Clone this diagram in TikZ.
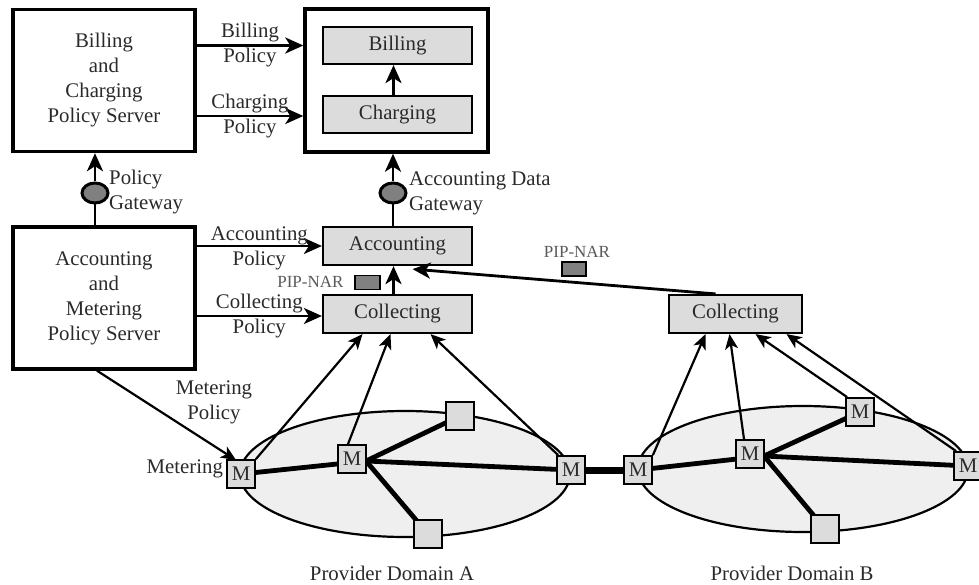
\documentclass[tikz,border=0pt]{standalone}
\usepackage{fontspec}
\setmainfont{Liberation Serif}
\usetikzlibrary{arrows.meta,shapes.geometric}

\definecolor{boxfill}{HTML}{DCDCDC}
\definecolor{domainfill}{HTML}{EFEFEF}
\definecolor{darkfill}{HTML}{808080}
\definecolor{txt}{HTML}{2A2A2A}

\tikzset{
  txtstyle/.style={font=\fontsize{20.8}{25}\selectfont, text=txt},
  server/.style={draw, line width=3.4pt, minimum width=182pt, minimum height=142pt, align=center, txtstyle},
  container/.style={draw, line width=3.4pt, minimum width=183pt, minimum height=143pt},
  procbox/.style={draw, line width=2.2pt, fill=boxfill, minimum width=149pt, minimum height=37pt, txtstyle},
  gateway/.style={draw, ellipse, line width=3pt, fill=darkfill, minimum width=26pt, minimum height=20pt, inner sep=0pt},
  pipnar/.style={draw, line width=1.2pt, fill=darkfill, minimum width=25pt, minimum height=14pt, inner sep=0pt},
  piplabel/.style={font=\fontsize{17}{20}\selectfont, text=black!65},
  provdomain/.style={draw, ellipse, line width=2.2pt, fill=domainfill, inner sep=0pt},
  meter/.style={draw, line width=1.8pt, fill=boxfill, minimum size=28pt, inner sep=0pt, txtstyle},
  lbl/.style={align=center, txtstyle, inner sep=0pt},
  flow/.style={line width=2.8pt, -{Stealth[length=18pt,width=16pt,inset=5pt]}},
  thinflow/.style={line width=2.2pt, -{Stealth[length=15pt,width=13pt,inset=4pt]}},
  link/.style={line width=4.8pt},
  trunk/.style={line width=7pt}
}

\begin{document}
\begin{tikzpicture}[x=1pt, y=-1pt]
\useasboundingbox (0,0) rectangle (979,585);

% --- policy servers ---
\node[server] (bcs) at (104,80.5) {Billing\\and\\Charging\\Policy Server};
\node[server] (ams) at (104,298) {Accounting\\and\\Metering\\Policy Server};

% --- billing / charging container ---
\node[container] (bcbox) at (396.5,80.5) {};
\node[procbox] (billing) at (397.5,45.5) {Billing};
\node[procbox] (charging) at (397.5,114.5) {Charging};
\draw[flow] ([xshift=-4pt]charging.north) -- ([xshift=-4pt]billing.south);

% --- accounting / collecting ---
\node[procbox, minimum height=38pt] (accounting) at (397.5,246) {Accounting};
\node[procbox, minimum height=38pt] (collA) at (397.5,314) {Collecting};
\node[procbox, minimum height=38pt, minimum width=133pt] (collB) at (735.5,314) {Collecting};
\draw[flow] ([xshift=-4pt]collA.north) -- ([xshift=-4pt]accounting.south);

% --- policy flows ---
\draw[flow] (bcs.east |- billing) -- (bcbox.west |- billing)
  node[lbl, midway] {Billing\\Policy};
\draw[flow] ([yshift=-1.5pt]bcs.east |- charging) -- ([yshift=-1.5pt]bcbox.west |- charging)
  node[lbl, midway] {Charging\\Policy};
\draw[flow] (ams.east |- accounting) -- (accounting.west)
  node[lbl, midway, yshift=-2pt] {Accounting\\Policy};
\draw[flow] ([yshift=-2pt]ams.east |- collA) -- ([yshift=-2pt]collA.west)
  node[lbl, midway] {Collecting\\Policy};

% --- gateways ---
\node[gateway] (pgw) at (95,193) {};
\draw[line width=2.8pt] ([xshift=-9pt]ams.north) -- (pgw);
\draw[flow] (pgw) -- ([xshift=-9pt]bcs.south);
\node[lbl, anchor=west, align=left] (pgwl) at (109,192) {Policy\\Gateway};

\node[gateway] (agw) at (393,193) {};
\draw[line width=2.8pt] ([xshift=-4.5pt]accounting.north) -- (agw);
\draw[flow] (agw) -- ([xshift=-3.5pt]bcbox.south);
\node[lbl, anchor=west, align=left] (agwl) at (409,193) {Accounting Data\\Gateway};

% --- PIP-NAR markers ---
\node[pipnar] (pip1) at (367.5,282.5) {};
\node[piplabel, anchor=east] (pip1l) at (347,282) {PIP-NAR};
\node[pipnar, minimum width=24pt] (pip2) at (574,269) {};
\node[piplabel] (pip2l) at (577,252) {PIP-NAR};

\draw[flow] ([xshift=-20pt]collB.north) -- ([xshift=15pt,yshift=-3pt]accounting.south);

% --- provider domains ---
\node[provdomain, minimum width=330pt, minimum height=126pt] (domA) at (405,474) {};
\node[provdomain, minimum width=330pt, minimum height=126pt] (domB) at (803,469) {};

\coordinate (mA1c) at (241,474);
\coordinate (mA2c) at (352,459);
\coordinate (sqA1c) at (460,416);
\coordinate (sqA2c) at (428,534);
\coordinate (mA3c) at (571,470);
\coordinate (mB1c) at (638,470);
\coordinate (mB2c) at (750,454);
\coordinate (mB3c) at (860,412);
\coordinate (mB4c) at (968,466);
\coordinate (sqBc) at (825,529);

% network links
\draw[link] (mA1c) -- ([xshift=14pt,yshift=-2pt]mA2c);
\draw[link] ([xshift=14pt,yshift=-2pt]mA2c) -- (sqA1c);
\draw[link] ([xshift=14pt,yshift=-2pt]mA2c) -- (mA3c);
\draw[link] ([xshift=14pt,yshift=-2pt]mA2c) -- (sqA2c);
\draw[trunk] (mA3c) -- (mB1c);
\draw[link] (mB1c) -- ([xshift=14pt,yshift=-2pt]mB2c);
\draw[link] ([xshift=14pt,yshift=-2pt]mB2c) -- (mB3c);
\draw[link] ([xshift=14pt,yshift=-2pt]mB2c) -- (mB4c);
\draw[link] ([xshift=14pt,yshift=-2pt]mB2c) -- (sqBc);

% meters and plain network elements
\node[meter] (mA1) at (mA1c) {M};
\node[meter] (mA2) at (mA2c) {M};
\node[meter] (sqA1) at (sqA1c) {};
\node[meter] (sqA2) at (sqA2c) {};
\node[meter] (mA3) at (mA3c) {M};
\node[meter] (mB1) at (mB1c) {M};
\node[meter] (mB2) at (mB2c) {M};
\node[meter] (mB3) at (mB3c) {M};
\node[meter] (mB4) at (mB4c) {M};
\node[meter] (sqB) at (sqBc) {};

% metering data towards the collectors
\draw[thinflow] (mA1.north east) -- ([xshift=-35pt]collA.south);
\draw[thinflow] ([xshift=-4pt]mA2.north) -- ([xshift=-7pt]collA.south);
\draw[thinflow] ([xshift=2pt]mA3.north west) -- ([xshift=33pt]collA.south);
\draw[thinflow] (mB1.north east) -- ([xshift=-30pt]collB.south);
\draw[thinflow] ([xshift=-6pt]mB2.north) -- ([xshift=-6pt]collB.south);
\draw[thinflow] ([xshift=2pt]mB3.north west) -- ([xshift=20pt]collB.south);
\draw[thinflow] ([xshift=3pt]mB4.north west) -- ([xshift=51pt]collB.south);

% metering policy
\draw[thinflow] ([xshift=-7pt]ams.south) -- ([xshift=-5pt,yshift=-1pt]mA1.north);
\node[lbl] (mpl) at (214,402) {Metering\\Policy};
\node[lbl, anchor=east] (mtl) at ([xshift=-3pt,yshift=5pt]mA1.west) {Metering};

% domain captions
\node[lbl] (capA) at (392,573) {Provider Domain A};
\node[lbl] (capB) at (792,573) {Provider Domain B};
\end{tikzpicture}
\end{document}
